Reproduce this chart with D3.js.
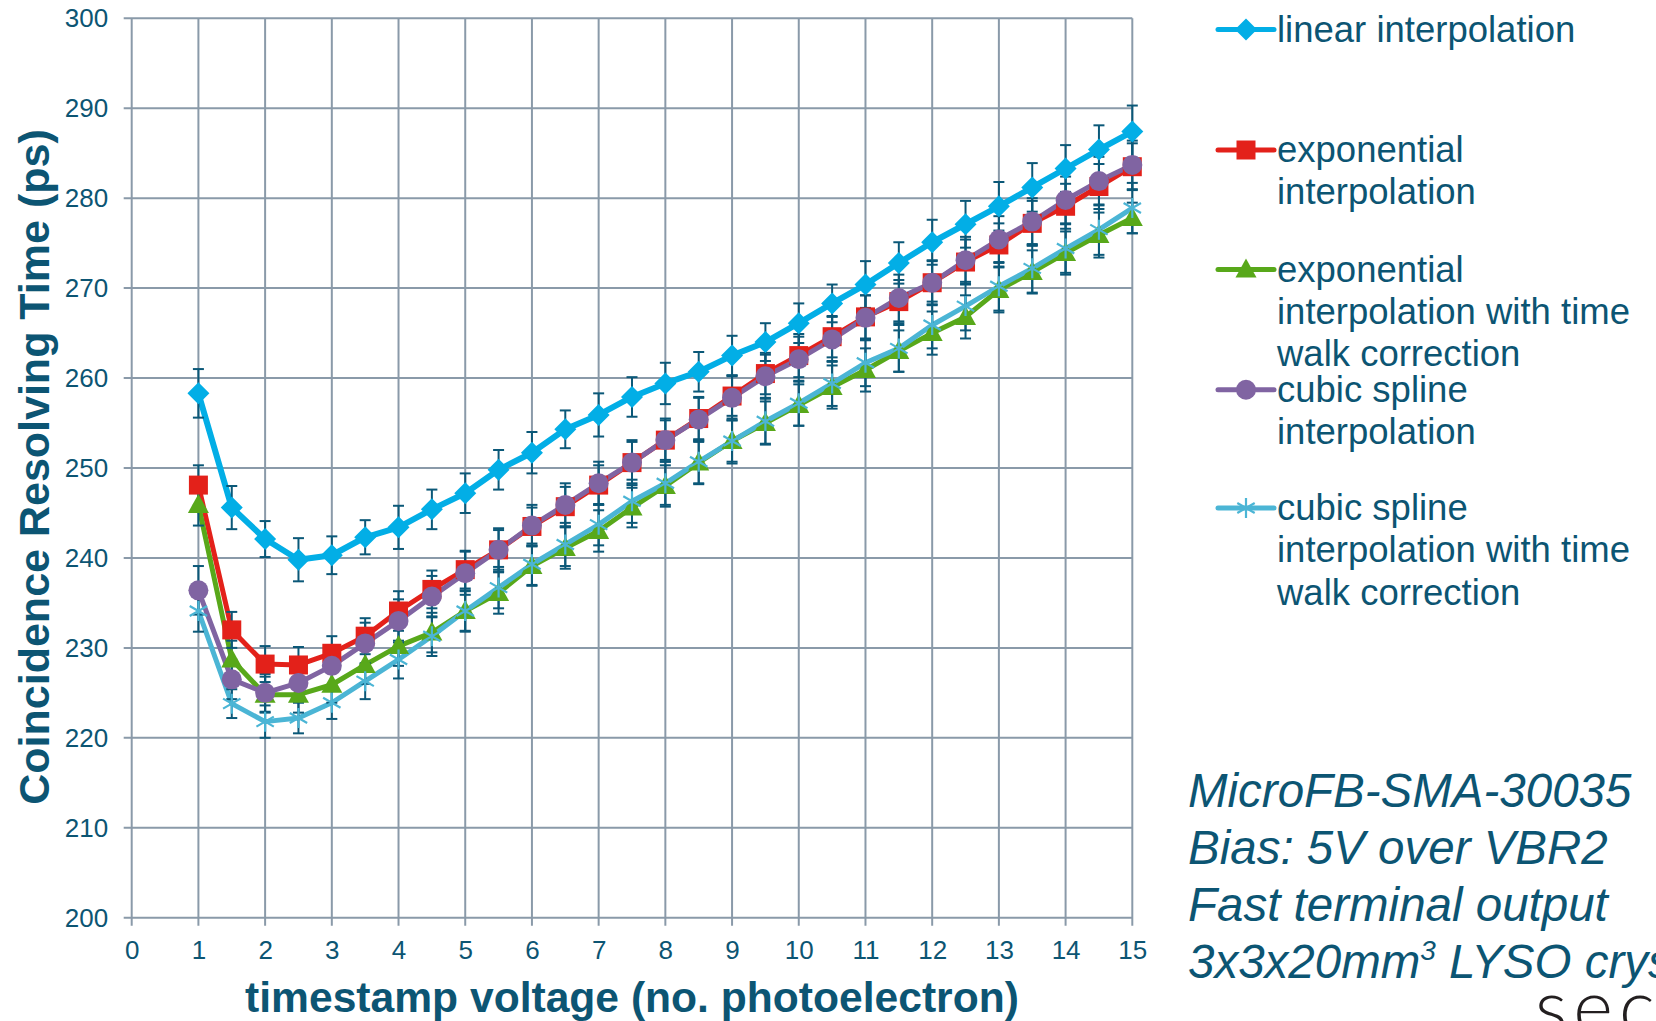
<!DOCTYPE html>
<html>
<head>
<meta charset="utf-8">
<script src="https://cdn.jsdelivr.net/npm/d3@7"></script>
<style>
  html, body { margin: 0; padding: 0; background: #fff; overflow: hidden; }
  svg { display: block; font-family: "Liberation Sans", Arial, sans-serif; }
</style>
</head>
<body>
<script>
// timestamp voltage (no. photoelectron)
const xVals = [1, 1.5, 2, 2.5, 3, 3.5, 4, 4.5, 5, 5.5, 6, 6.5, 7, 7.5, 8, 8.5, 9, 9.5, 10, 10.5, 11, 11.5, 12, 12.5, 13, 13.5, 14, 14.5, 15];

// coincidence resolving time (ps)
const linear      = [258.3, 245.6, 242.1, 239.8, 240.3, 242.3, 243.4, 245.4, 247.2, 249.8, 251.7, 254.3, 255.9, 257.9, 259.4, 260.7, 262.5, 264.0, 266.1, 268.3, 270.4, 272.8, 275.1, 277.1, 279.1, 281.2, 283.3, 285.4, 287.4];
const expo        = [248.1, 232.0, 228.2, 228.1, 229.4, 231.3, 234.1, 236.5, 238.7, 240.9, 243.5, 245.7, 248.1, 250.6, 253.1, 255.5, 258.0, 260.5, 262.5, 264.6, 266.8, 268.5, 270.6, 272.9, 274.8, 277.2, 279.1, 281.3, 283.5];
const expoTw      = [245.9, 228.7, 224.8, 224.8, 225.9, 228.1, 230.2, 231.7, 234.1, 236.1, 239.1, 241.1, 243.0, 245.6, 248.0, 250.6, 253.0, 255.0, 257.0, 259.0, 260.9, 263.0, 265.0, 266.8, 269.8, 271.8, 273.9, 275.9, 277.8];
const spline      = [236.4, 226.5, 225.0, 226.1, 228.0, 230.5, 233.0, 235.7, 238.3, 240.9, 243.6, 245.9, 248.3, 250.6, 253.1, 255.4, 257.8, 260.2, 262.1, 264.3, 266.7, 268.9, 270.6, 273.1, 275.4, 277.4, 279.8, 281.9, 283.7];
const splineTw    = [234.1, 223.8, 221.8, 222.2, 223.9, 226.3, 228.7, 231.3, 234.1, 236.7, 239.3, 241.5, 243.7, 246.3, 248.3, 250.7, 253.0, 255.2, 257.2, 259.4, 261.7, 263.3, 265.9, 268.0, 270.2, 272.2, 274.4, 276.5, 278.9];

// error bar half-widths (ps)
const linearErr   = [2.7, 2.4, 2.0, 2.4, 2.1, 1.9, 2.4, 2.2, 2.2, 2.2, 2.3, 2.1, 2.4, 2.2, 2.3, 2.2, 2.2, 2.1, 2.2, 2.1, 2.6, 2.3, 2.5, 2.6, 2.7, 2.7, 2.6, 2.7, 2.9];
const expoErr     = [2.2, 2.0, 2.0, 2.0, 1.9, 2.0, 2.2, 2.1, 2.1, 2.2, 2.1, 2.2, 2.2, 2.3, 2.2, 2.3, 2.2, 2.3, 2.4, 2.3, 2.4, 2.4, 2.4, 2.5, 2.4, 2.5, 2.5, 2.5, 2.6];
const expoTwErr   = [2.3, 2.1, 2.0, 2.0, 2.0, 2.1, 2.2, 2.2, 2.3, 2.3, 2.2, 2.3, 2.3, 2.2, 2.3, 2.4, 2.3, 2.4, 2.3, 2.4, 2.4, 2.3, 2.4, 2.4, 2.5, 2.4, 2.4, 2.5, 1.7];
const splineErr   = [2.7, 2.2, 2.1, 2.1, 2.2, 2.3, 2.4, 2.3, 2.4, 2.4, 2.3, 2.4, 2.4, 2.5, 2.4, 2.5, 2.5, 2.4, 2.5, 2.5, 2.5, 2.6, 2.5, 2.6, 2.6, 2.6, 2.6, 2.7, 2.7];
const splineTwErr = [2.3, 1.6, 1.8, 1.7, 1.8, 2.0, 2.1, 2.2, 2.2, 2.3, 2.3, 2.4, 2.3, 2.4, 2.4, 2.4, 2.5, 2.5, 2.5, 2.5, 2.6, 2.6, 2.6, 2.7, 2.7, 2.7, 2.7, 2.8, 2.8];

const seriesNames = [
  ['linear interpolation'],
  ['exponential', 'interpolation'],
  ['exponential', 'interpolation with time', 'walk correction'],
  ['cubic spline', 'interpolation'],
  ['cubic spline', 'interpolation with time', 'walk correction']
];

const xTicks = [0, 1, 2, 3, 4, 5, 6, 7, 8, 9, 10, 11, 12, 13, 14, 15];
const yTicks = [200, 210, 220, 230, 240, 250, 260, 270, 280, 290, 300];

const noteLines = ['MicroFB-SMA-30035', 'Bias: 5V over VBR2', 'Fast terminal output'];

const textColor = '#0c5573';
const gridColor = '#8a9aa9';
const errColor = '#0b5878';

const series = [
  { values: linear,   err: linearErr,   color: '#02aee6', marker: 'diamond',  width: 6 },
  { values: expo,     err: expoErr,     color: '#e3211a', marker: 'square',   width: 5 },
  { values: expoTw,   err: expoTwErr,   color: '#58a81a', marker: 'triangle', width: 5 },
  { values: spline,   err: splineErr,   color: '#8064a2', marker: 'circle',   width: 5 },
  { values: splineTw, err: splineTwErr, color: '#4bb5d5', marker: 'star',     width: 5 }
];

const W = 1656, H = 1021;
const plot = { left: 131.7, right: 1132.3, top: 18.3, bottom: 917.7 };

const svg = d3.select('body')
  .append('svg')
  .attr('width', W)
  .attr('height', H);

const x = d3.scaleLinear().domain([0, 15]).range([plot.left, plot.right]);
const y = d3.scaleLinear().domain([200, 300]).range([plot.bottom, plot.top]);

// grid
const grid = svg.append('g').attr('class', 'grid');
grid.selectAll('line.h')
  .data(yTicks)
  .enter()
  .append('line')
  .attr('x1', plot.left - 8)
  .attr('x2', plot.right)
  .attr('y1', d => y(d))
  .attr('y2', d => y(d))
  .attr('stroke', gridColor)
  .attr('stroke-width', 2);
grid.selectAll('line.v')
  .data(xTicks)
  .enter()
  .append('line')
  .attr('x1', d => x(d))
  .attr('x2', d => x(d))
  .attr('y1', plot.top)
  .attr('y2', plot.bottom + 8)
  .attr('stroke', gridColor)
  .attr('stroke-width', 2);

// axes (labels only, the grid draws the lines)
const xAxis = d3.axisBottom(x).tickValues(xTicks).tickSize(8).tickPadding(15).tickFormat(d3.format('d'));
const yAxis = d3.axisLeft(y).tickValues(yTicks).tickSize(8).tickPadding(15.5).tickFormat(d3.format('d'));

const gx = svg.append('g').attr('transform', 'translate(0,' + plot.bottom + ')').call(xAxis);
const gy = svg.append('g').attr('transform', 'translate(' + plot.left + ',0)').call(yAxis);
[gx, gy].forEach(g => {
  g.select('.domain').remove();
  g.selectAll('.tick line').remove();
  g.selectAll('.tick text')
    .attr('fill', textColor)
    .style('font-size', '26px')
    .style('font-family', '"Liberation Sans", Arial, sans-serif');
});

// axis titles
svg.append('text')
  .attr('x', 632)
  .attr('y', 1012)
  .attr('text-anchor', 'middle')
  .attr('fill', textColor)
  .style('font-size', '42.6px')
  .style('font-weight', 'bold')
  .text('timestamp voltage (no. photoelectron)');

svg.append('text')
  .attr('transform', 'translate(49,467) rotate(-90)')
  .attr('text-anchor', 'middle')
  .attr('fill', textColor)
  .style('font-size', '43px')
  .style('font-weight', 'bold')
  .text('Coincidence Resolving Time (ps)');

// marker shapes
const markerPath = {
  diamond: 'M0,-11L11,0L0,11L-11,0Z',
  square: 'M-9.5,-9.5H9.5V9.5H-9.5Z',
  triangle: 'M0,-11L10.5,8L-10.5,8Z',
  circle: 'M10,0A10,10 0 1,1 -10,0A10,10 0 1,1 10,0Z',
  star: 'M0,-10V10M-8.7,-5L8.7,5M-8.7,5L8.7,-5'
};

function drawMarker(sel, s) {
  const isStar = s.marker === 'star';
  sel.append('path')
    .attr('d', markerPath[s.marker])
    .attr('fill', isStar ? 'none' : s.color)
    .attr('stroke', s.color)
    .attr('stroke-width', isStar ? 2.2 : 0);
}

const line = d3.line()
  .x(d => x(d[0]))
  .y(d => y(d[1]));

// lines
series.forEach(s => {
  svg.append('path')
    .datum(xVals.map((v, i) => [v, s.values[i]]))
    .attr('fill', 'none')
    .attr('stroke', s.color)
    .attr('stroke-width', s.width)
    .attr('stroke-linejoin', 'round')
    .attr('d', line);
});

// error bars
series.forEach(s => {
  const eb = svg.append('g').attr('class', 'errbars');
  xVals.forEach((v, i) => {
    const cx = x(v), hi = y(s.values[i] + s.err[i]), lo = y(s.values[i] - s.err[i]);
    eb.append('line').attr('x1', cx).attr('x2', cx).attr('y1', hi).attr('y2', lo)
      .attr('stroke', errColor).attr('stroke-width', 2);
    [hi, lo].forEach(yy => {
      eb.append('line').attr('x1', cx - 5.5).attr('x2', cx + 5.5).attr('y1', yy).attr('y2', yy)
        .attr('stroke', errColor).attr('stroke-width', 2);
    });
  });
});

// markers
series.forEach(s => {
  svg.append('g')
    .selectAll('g')
    .data(xVals.map((v, i) => [v, s.values[i]]))
    .enter()
    .append('g')
    .attr('transform', d => 'translate(' + x(d[0]) + ',' + y(d[1]) + ')')
    .each(function () { drawMarker(d3.select(this), s); });
});

// legend
const legendTop = [29.6, 150, 269.5, 389.7, 508];
const lineGap = 42.4;
series.forEach((s, i) => {
  const g = svg.append('g').attr('transform', 'translate(0,' + legendTop[i] + ')');
  g.append('line')
    .attr('x1', 1218).attr('x2', 1274)
    .attr('y1', 0).attr('y2', 0)
    .attr('stroke', s.color)
    .attr('stroke-width', 5)
    .attr('stroke-linecap', 'round');
  const m = g.append('g').attr('transform', 'translate(1246,0)');
  drawMarker(m, s);
  const t = g.append('text')
    .attr('fill', textColor)
    .style('font-size', '36.5px');
  seriesNames[i].forEach((str, j) => {
    t.append('tspan')
      .attr('x', 1277)
      .attr('y', 12 + j * lineGap)
      .text(str);
  });
});

// note
const note = svg.append('text')
  .attr('fill', textColor)
  .style('font-size', '47.5px')
  .style('font-style', 'italic');
noteLines.forEach((str, j) => {
  note.append('tspan').attr('x', 1188).attr('y', 806.7 + j * 57.2).text(str);
});
const last = note.append('tspan').attr('x', 1188).attr('y', 806.7 + 3 * 57.2);
last.text('3x3x20mm');
note.append('tspan').attr('dy', -18).style('font-size', '28px').text('3');
note.append('tspan').attr('dy', 18).text(' LYSO crystal');

// logo fragment at the bottom edge
svg.append('text')
  .attr('x', 1535)
  .attr('y', 1034)
  .attr('fill', '#231f20')
  .style('font-size', '76px')
  .style('font-family', 'Lato, "DejaVu Sans", sans-serif')
  .style('font-weight', 300)
  .style('letter-spacing', '6px')
  .text('sec');
</script>
</body>
</html>
